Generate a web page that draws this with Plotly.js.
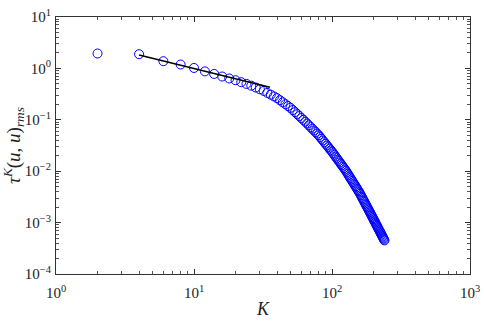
<!DOCTYPE html>
<html>
<head>
<meta charset="utf-8">
<script src="https://cdn.plot.ly/plotly-3.0.1.min.js"></script>
<style>
  html, body { margin: 0; padding: 0; background: #fff; }
  #chart { width: 484px; height: 321px; }
</style>
</head>
<body>
<div id="chart"></div>
<script>
// wavenumber K (even values)
let kValues = [2, 4, 6, 8, 10, 12, 14, 16, 18, 20, 22, 24, 26, 28, 30, 32, 34, 36, 38, 40,
  42, 44, 46, 48, 50, 52, 54, 56, 58, 60, 62, 64, 66, 68, 70, 72, 74, 76, 78, 80,
  82, 84, 86, 88, 90, 92, 94, 96, 98, 100, 102, 104, 106, 108, 110, 112, 114, 116, 118, 120,
  122, 124, 126, 128, 130, 132, 134, 136, 138, 140, 142, 144, 146, 148, 150, 152, 154, 156, 158, 160,
  162, 164, 166, 168, 170, 172, 174, 176, 178, 180, 182, 184, 186, 188, 190, 192, 194, 196, 198, 200,
  202, 204, 206, 208, 210, 212, 214, 216, 218, 220, 222, 224, 226, 228, 230, 232, 234, 236, 238, 240];

// tau^K(u,u)_rms
let tauValues = [1.95, 1.89, 1.38, 1.19, 1.02, 0.875, 0.78, 0.695, 0.637, 0.589,
  0.539, 0.499, 0.461, 0.425, 0.394, 0.365, 0.334, 0.308, 0.285, 0.264,
  0.240, 0.219, 0.201, 0.185, 0.171, 0.155, 0.141, 0.129, 0.118, 0.108,
  0.0998, 0.0919, 0.0846, 0.0780, 0.0721, 0.0669, 0.0621, 0.0578, 0.0538, 0.0501,
  0.0462, 0.0426, 0.0395, 0.0366, 0.0340, 0.0316, 0.0294, 0.0274, 0.0256, 0.0240,
  0.0223, 0.0208, 0.0193, 0.01805, 0.01686, 0.01578, 0.01477, 0.01385, 0.0130, 0.01222,
  0.01149, 0.01082, 0.01019, 0.00953, 0.00892, 0.00834, 0.00782, 0.00734, 0.00689, 0.00648,
  0.0061, 0.00574, 0.00541, 0.0051, 0.00482, 0.00455, 0.0043, 0.00407, 0.00385, 0.00362,
  0.0034, 0.00319, 0.0030, 0.00282, 0.00266, 0.00251, 0.00236, 0.00223, 0.0021, 0.00199,
  0.00188, 0.00178, 0.00168, 0.00159, 0.00151, 0.00143, 0.00136, 0.00129, 0.00122, 0.00116,
  0.0011, 0.00105, 0.000995, 0.000946, 0.000901, 0.000858, 0.000816, 0.000777, 0.000741, 0.000707,
  0.000674, 0.000644, 0.000615, 0.000587, 0.000561, 0.000536, 0.000513, 0.000491, 0.000469, 0.00045];

// reference slope segment
let lineK = [4, 35.5];
let lineTau = [1.82, 0.43];

let xTickVals = [1, 10, 100, 1000];
let xTickLabels = ['10<sup>0</sup>', '10<sup>1</sup>', '10<sup>2</sup>', '10<sup>3</sup>'];
let yTickVals = [1e-4, 1e-3, 1e-2, 1e-1, 1, 10];
let yTickLabels = ['10<sup>\u22124</sup>', '10<sup>\u22123</sup>', '10<sup>\u22122</sup>',
  '10<sup>\u22121</sup>', '10<sup>0</sup>', '10<sup>1</sup>'];

const serif = '"Liberation Serif", "Times New Roman", "DejaVu Serif", serif';

let circles = {
    x: kValues,
    y: tauValues,
    mode: 'markers',
    type: 'scatter',
    marker: { symbol: 'circle-open', size: 9, color: '#0000ff', line: { width: 1, color: '#0000ff' } },
    showlegend: false
};

let slope = {
    x: lineK,
    y: lineTau,
    mode: 'lines',
    type: 'scatter',
    line: { color: '#000', width: 1.5 },
    showlegend: false
};

let axisCommon = {
    type: 'log',
    showgrid: false,
    zeroline: false,
    showline: true,
    mirror: 'ticks',
    linecolor: '#333',
    linewidth: 1,
    ticks: 'inside',
    ticklen: 5,
    tickcolor: '#333',
    tickmode: 'array',
    minor: { ticks: 'inside', ticklen: 3, tickcolor: '#555', dtick: 'D1', showgrid: false },
    tickfont: { family: serif, size: 15, color: '#222' }
};

let layout = {
    width: 484,
    height: 321,
    margin: { l: 56, r: 14, t: 17, b: 47 },
    paper_bgcolor: '#fff',
    plot_bgcolor: '#fff',
    font: { family: serif, color: '#222' },
    xaxis: Object.assign({}, axisCommon, {
        range: [0, 3],
        tickvals: xTickVals,
        ticktext: xTickLabels,
        ticklabelstandoff: 5,
        title: { text: '<i>K</i>', font: { family: serif, size: 18 }, standoff: 2 }
    }),
    yaxis: Object.assign({}, axisCommon, {
        range: [-4, 1],
        tickvals: yTickVals,
        ticktext: yTickLabels,
        ticklabelstandoff: 1,
        title: { text: '<i>\u03c4</i><sup><i>K</i></sup>(<i>u</i>, <i>u</i>)<sub><i>rms</i></sub>',
                 font: { family: serif, size: 19 }, standoff: 8 }
    })
};

Plotly.newPlot('chart', [circles, slope], layout, { displayModeBar: false, staticPlot: true });
</script>
</body>
</html>
